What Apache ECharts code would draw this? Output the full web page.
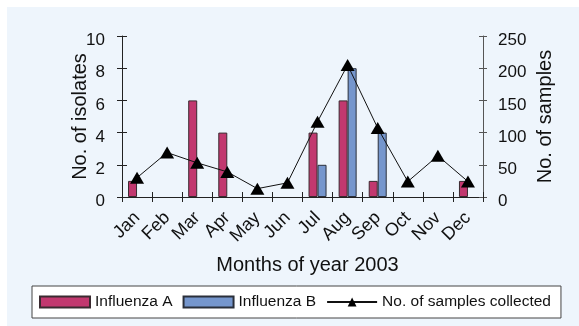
<!DOCTYPE html>
<html>
<head>
<meta charset="utf-8">
<script src="https://cdn.jsdelivr.net/npm/echarts@6/dist/echarts.min.js"></script>
<style>
  html, body { margin: 0; padding: 0; background: #ffffff; }
  #chart { width: 579px; height: 326px; }
</style>
</head>
<body>
<div id="chart"></div>
<script>
// Monthly influenza isolates and samples collected, 2003
const months = ['Jan', 'Feb', 'Mar', 'Apr', 'May', 'Jun', 'Jul', 'Aug', 'Sep', 'Oct', 'Nov', 'Dec'];
const influenzaA = [1, null, 6, 4, null, null, 4, 6, 1, null, null, 1];
const influenzaB = [null, null, null, null, null, null, 2, 8, 4, null, null, null];
const samplesCollected = [30, 69, 53, 39, 13, 22, 117, 205, 107, 24, 64, 24];
const isolateTicks = [0, 10, 2];    // min, max, interval
const sampleTicks = [0, 250, 50];

const FONT = 'Liberation Sans, Arial, sans-serif';
const chart = echarts.init(document.getElementById('chart'), null, { renderer: 'canvas' });

const tickStyle = { color: '#222', width: 1 };
// value labels sit slightly below their tick marks
const valueLabel = { fontFamily: FONT, fontSize: 17, color: '#111', verticalAlign: 'top', lineHeight: 9 };

chart.setOption({
  animation: false,
  backgroundColor: '#ffffff',
  textStyle: { fontFamily: FONT, color: '#111' },
  graphic: [{
    type: 'rect', z: -10, silent: true,
    shape: { x: 7, y: 7, width: 579, height: 326 },
    style: { fill: '#eef5fc' }
  }],
  grid: { left: 122, right: 96, top: 36, bottom: 129, containLabel: false },
  legend: {
    left: 32, top: 286,
    backgroundColor: '#ffffff',
    borderColor: '#444', borderWidth: 1, borderRadius: 0,
    padding: [8, 10, 8, 7],
    itemWidth: 50, itemHeight: 11, itemGap: 10,
    textStyle: { fontFamily: FONT, fontSize: 15.5, color: '#111' },
    data: [
      { name: 'Influenza A', icon: 'rect' },
      { name: 'Influenza B', icon: 'rect' },
      { name: 'No. of samples collected' }
    ]
  },
  xAxis: [{
    type: 'category', data: months, position: 'bottom',
    name: 'Months of year 2003', nameLocation: 'middle', nameGap: 58, nameMoveOverlap: false,
    nameTextStyle: { fontFamily: FONT, fontSize: 20, color: '#111', padding: [0, 0, 0, 10] },
    axisLine: { lineStyle: { color: '#222', width: 1 } },
    axisTick: { show: true, length: 5, lineStyle: tickStyle },
    axisLabel: { rotate: 45, margin: 18, fontFamily: FONT, fontSize: 18, color: '#111', interval: 0 },
    splitLine: { show: false }
  }, {
    type: 'category', data: months, position: 'bottom',
    axisLine: { show: false },
    axisTick: { show: true, inside: true, length: 5, lineStyle: tickStyle },
    axisLabel: { show: false },
    splitLine: { show: false }
  }],
  yAxis: [{
    type: 'value', position: 'left',
    min: isolateTicks[0], max: isolateTicks[1], interval: isolateTicks[2],
    name: 'No. of isolates', nameLocation: 'middle', nameGap: 32, nameRotate: 90, nameMoveOverlap: false,
    nameTextStyle: { fontFamily: FONT, fontSize: 20, color: '#111' },
    axisLine: { show: true, lineStyle: { color: '#222', width: 1 } },
    axisTick: { show: true, length: 5, lineStyle: tickStyle },
    axisLabel: Object.assign({ margin: 17 }, valueLabel),
    splitLine: { show: false }
  }, {
    type: 'value', position: 'right',
    min: sampleTicks[0], max: sampleTicks[1], interval: sampleTicks[2],
    name: 'No. of samples', nameLocation: 'middle', nameGap: 52, nameRotate: 90, nameMoveOverlap: false,
    nameTextStyle: { fontFamily: FONT, fontSize: 20, color: '#111' },
    axisLine: { show: true, lineStyle: { color: '#555', width: 1 } },
    axisTick: { show: true, length: 4, lineStyle: { color: '#555', width: 1 } },
    axisLabel: Object.assign({ margin: 15 }, valueLabel),
    splitLine: { show: false }
  }, {
    type: 'value', position: 'left',
    min: isolateTicks[0], max: isolateTicks[1], interval: isolateTicks[2],
    axisLine: { show: false },
    axisTick: { show: true, inside: true, length: 5, lineStyle: tickStyle },
    axisLabel: { show: false },
    splitLine: { show: false }
  }, {
    type: 'value', position: 'right',
    min: sampleTicks[0], max: sampleTicks[1], interval: sampleTicks[2],
    axisLine: { show: false },
    axisTick: { show: true, inside: true, length: 4, lineStyle: { color: '#555', width: 1 } },
    axisLabel: { show: false },
    splitLine: { show: false }
  }],
  series: [{
    name: 'Influenza A', type: 'bar', data: influenzaA,
    xAxisIndex: 0, yAxisIndex: 0,
    barWidth: 9, barGap: '0%',
    itemStyle: { color: '#c2386f', borderColor: '#3a2a30', borderWidth: 1 }
  }, {
    name: 'Influenza B', type: 'bar', data: influenzaB,
    xAxisIndex: 0, yAxisIndex: 0,
    barWidth: 9, barGap: '0%',
    itemStyle: { color: '#7596cd', borderColor: '#2a2f3a', borderWidth: 1 }
  }, {
    name: 'No. of samples collected', type: 'line', data: samplesCollected,
    xAxisIndex: 0, yAxisIndex: 1,
    symbol: 'triangle', symbolSize: [14, 12],
    lineStyle: { color: '#111', width: 1 },
    itemStyle: { color: '#000' },
    z: 5
  }]
});
</script>
</body>
</html>
